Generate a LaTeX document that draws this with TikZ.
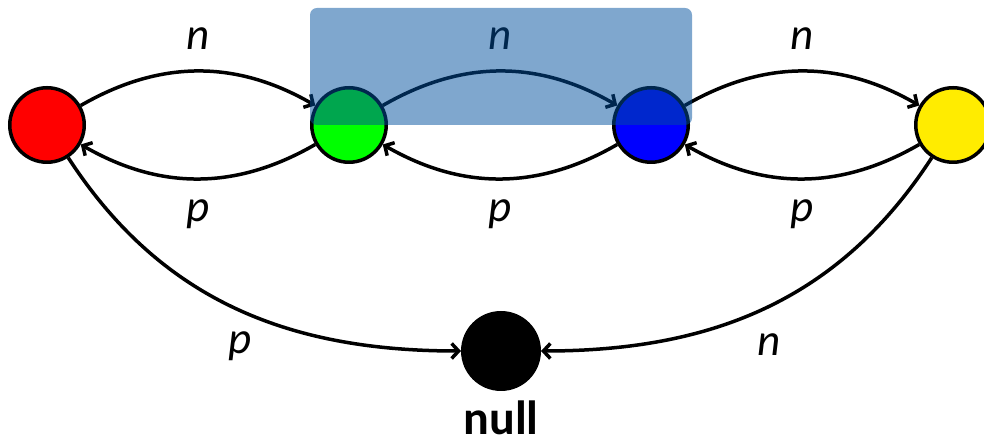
\documentclass[tikz,border=0pt]{standalone}
\usepackage{fontspec}
\setmainfont{Carlito}
\usetikzlibrary{arrows.meta, positioning}
\definecolor{statered}{RGB}{255, 0, 0}
\definecolor{stategreen}{RGB}{0, 255, 0}
\definecolor{stateblue}{RGB}{0, 0, 255}
\definecolor{stateyellow}{RGB}{255, 236, 0}
\definecolor{hlblue}{RGB}{0, 79, 157}
\tikzset{
  statenode/.style={circle, draw=black, line width=1.75pt, minimum size=37.25pt, inner sep=0pt},
  trans/.style={-{Straight Barb[length=3.5pt, width=7.5pt]}, line width=1.75pt},
  lbl/.style={font=\fontsize{22.5}{27}\selectfont\itshape, inner sep=0pt},
}
\begin{document}
\begin{tikzpicture}[x=0.5pt, y=0.5pt]
    \useasboundingbox (0,0) rectangle (984,448);
    \node[statenode, fill=statered] (red) at (47,323) {};
    \node[statenode, fill=stategreen] (green) at (349,323) {};
    \node[statenode, fill=stateblue] (blue) at (651,323) {};
    \node[statenode, fill=stateyellow] (yellow) at (953,323) {};
    \node[statenode, fill=black, minimum size=38.25pt] (null) at (501,97) {};
    \node[below=4.5pt of null, inner sep=0pt, font=\fontsize{24}{29}\selectfont\bfseries] (nulltxt) {null};

    \draw[trans] (red) to[bend left=30] node[lbl, above=10pt] (nrg) {n} (green);
    \draw[trans] (green) to[bend left=30] node[lbl, above=10pt] (ngb) {n} (blue);
    \draw[trans] (blue) to[bend left=30] node[lbl, above=10pt] (nby) {n} (yellow);
    \draw[trans] (green) to[bend left=30] node[lbl, below=9.5pt] (pgr) {p} (red);
    \draw[trans] (blue) to[bend left=30] node[lbl, below=9.5pt] (pbg) {p} (green);
    \draw[trans] (yellow) to[bend left=30] node[lbl, below=9.5pt] (pyb) {p} (blue);

    \draw[trans] (red) to[out=-57, in=180] node[lbl, below=11pt, xshift=2.5pt] (prn) {p} (null);
    \draw[trans] (yellow) to[out=-123, in=0] node[lbl, below=12pt, xshift=2pt] (nyn) {n} (null);

    % highlighted pair
    \fill[hlblue, opacity=0.5, rounded corners=3.5pt] (310,323) rectangle (692,440);
\end{tikzpicture}
\end{document}
